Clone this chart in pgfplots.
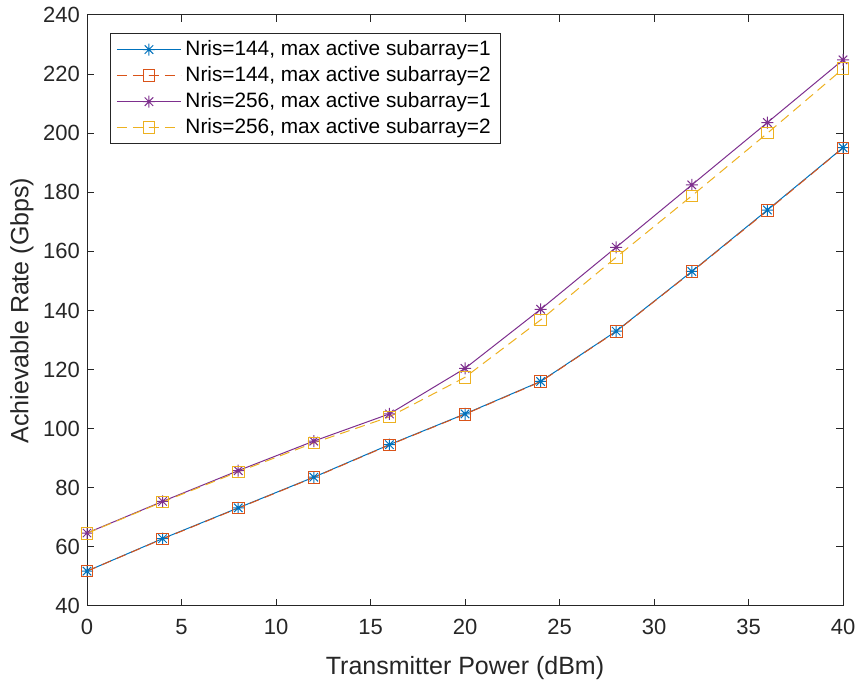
\documentclass[border=0pt]{standalone}
\usepackage{pgfplots}
\pgfplotsset{compat=1.18}
\usepackage{fontspec}
\setmainfont{Liberation Sans}
\definecolor{mblue}{rgb}{0,0.447,0.741}
\definecolor{morange}{rgb}{0.85,0.325,0.098}
\definecolor{myellow}{rgb}{0.929,0.694,0.125}
\definecolor{mpurple}{rgb}{0.494,0.184,0.556}
\definecolor{axgray}{rgb}{0.15,0.15,0.15}
\pgfdeclareplotmark{mstar}{%
  \pgfpathmoveto{\pgfqpoint{0pt}{\pgfplotmarksize}}\pgfpathlineto{\pgfqpoint{0pt}{-\pgfplotmarksize}}%
  \pgfpathmoveto{\pgfqpoint{\pgfplotmarksize}{0pt}}\pgfpathlineto{\pgfqpoint{-\pgfplotmarksize}{0pt}}%
  \pgfpathmoveto{\pgfqpoint{0.707\pgfplotmarksize}{0.707\pgfplotmarksize}}\pgfpathlineto{\pgfqpoint{-0.707\pgfplotmarksize}{-0.707\pgfplotmarksize}}%
  \pgfpathmoveto{\pgfqpoint{0.707\pgfplotmarksize}{-0.707\pgfplotmarksize}}\pgfpathlineto{\pgfqpoint{-0.707\pgfplotmarksize}{0.707\pgfplotmarksize}}%
  \pgfusepathqstroke}
\begin{document}
\begin{tikzpicture}
\begin{axis}[
  scale only axis,
  width=378pt, height=295.5pt,
  xmin=0, xmax=40, ymin=40, ymax=240,
  xtick={0,5,...,40}, ytick={40,60,...,240},
  tick align=inside, xtick pos=both, ytick pos=both,
  major tick length=3.5pt,
  axis line style={axgray, line width=0.5pt},
  every tick/.style={axgray, line width=0.5pt},
  tick label style={font=\fontsize{11}{13}\selectfont, text=axgray},
  xticklabel style={yshift=-3pt},
  /pgf/number format/assume math mode=true,
  xlabel={Transmitter Power (dBm)},
  ylabel={Achievable Rate (Gbps)},
  label style={font=\fontsize{12.5}{14}\selectfont, text=axgray},
  xlabel style={yshift=-4pt},
  ylabel style={yshift=-2pt},
  legend cell align=left,
  legend style={at={(0.0304,0.9695)}, anchor=north west, draw=axgray, line width=0.5pt,
    font=\fontsize{10.4}{11}\selectfont, text=black, row sep=0pt, inner xsep=3pt, inner ysep=1.5pt},
  legend image code/.code={\draw[mark repeat=2,mark phase=2,#1] plot coordinates {(0pt,0pt) (16pt,0pt) (32pt,0pt)};},
]
\addplot[mblue, line width=0.5pt, mark=mstar, mark size=3pt, mark options={solid}] coordinates {
(0,51.8) (4,62.8) (8,73.2) (12,83.6) (16,94.6) (20,105.0) (24,116.0) (28,133.0) (32,153.2) (36,174.0) (40,195.1)};
\addlegendentry{Nris=144, max active subarray=1}
\addplot[morange, line width=0.5pt, dash pattern=on 5pt off 3pt, mark=square, mark size=2.9pt, mark options={solid}] coordinates {
(0,51.8) (4,62.7) (8,73.1) (12,83.5) (16,94.5) (20,104.9) (24,115.9) (28,132.9) (32,153.1) (36,173.8) (40,195.0)};
\addlegendentry{Nris=144, max active subarray=2}
\addplot[mpurple, line width=0.5pt, mark=mstar, mark size=3pt, mark options={solid}] coordinates {
(0,64.7) (4,75.4) (8,85.8) (12,95.8) (16,105.0) (20,120.4) (24,140.4) (28,161.4) (32,182.5) (36,203.6) (40,224.8)};
\addlegendentry{Nris=256, max active subarray=1}
\addplot[myellow, line width=0.5pt, dash pattern=on 5pt off 3pt, mark=square, mark size=2.9pt, mark options={solid}] coordinates {
(0,64.6) (4,75.2) (8,85.4) (12,95.2) (16,104.0) (20,117.4) (24,136.8) (28,158.0) (32,178.8) (36,200.0) (40,221.8)};
\addlegendentry{Nris=256, max active subarray=2}
\end{axis}
\pgfresetboundingbox
\path (current axis.south west) ++(-43.5pt,-38pt) coordinate (bl);
\path (current axis.north east) ++(7.5pt,7.5pt) coordinate (tr);
\useasboundingbox (bl) rectangle (tr);
\end{tikzpicture}
\end{document}
